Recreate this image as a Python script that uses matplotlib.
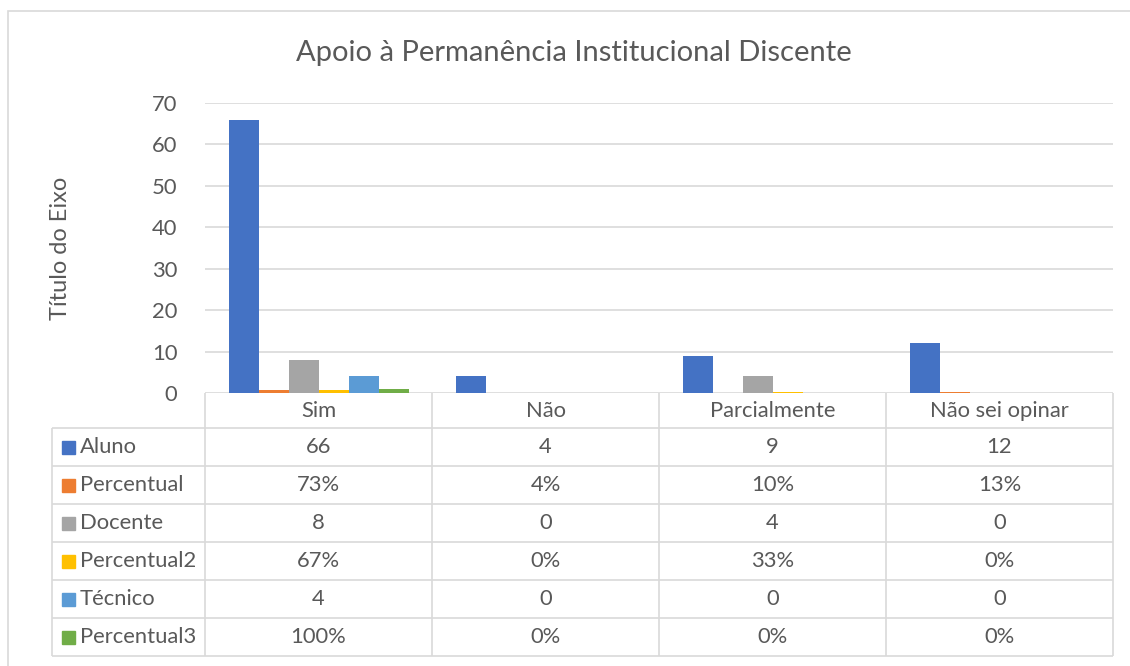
import numpy as np
import matplotlib.pyplot as plt
from matplotlib.patches import Rectangle

# categories and series
categories = ['Sim', 'Não', 'Parcialmente', 'Não sei opinar']
series_names = ['Aluno', 'Percentual', 'Docente', 'Percentual2', 'Técnico', 'Percentual3']
aluno = [66, 4, 9, 12]
percentual = [0.73, 0.04, 0.10, 0.13]
docente = [8, 0, 4, 0]
percentual2 = [0.67, 0.0, 0.33, 0.0]
tecnico = [4, 0, 0, 0]
percentual3 = [1.0, 0.0, 0.0, 0.0]
table_labels = [
    ['66', '4', '9', '12'],
    ['73%', '4%', '10%', '13%'],
    ['8', '0', '4', '0'],
    ['67%', '0%', '33%', '0%'],
    ['4', '0', '0', '0'],
    ['100%', '0%', '0%', '0%'],
]
colors = ['#4472C4', '#ED7D31', '#A5A5A5', '#FFC000', '#5B9BD5', '#70AD47']

plt.rcParams['font.family'] = ['Lato', 'DejaVu Sans']
W, H = 1130, 666
fig = plt.figure(figsize=(W / 100, H / 100), dpi=100)
txt = '#595959'
grid = '#D9D9D9'
fs = 15.8

def fx(px):
    return px / W

def fy(py):
    return 1 - py / H

# outer chart border
fig.patches.append(Rectangle((fx(8), fy(700)), fx(1200) - fx(8), fy(11) - fy(700),
                             transform=fig.transFigure, fill=False, edgecolor=grid, lw=1.2))

# main plot area
left, right, top, bottom = 205, 1113, 103, 393
ax = fig.add_axes([fx(left), fy(bottom), fx(right) - fx(left), fy(top) - fy(bottom)])
all_series = [aluno, percentual, docente, percentual2, tecnico, percentual3]
x = np.arange(len(categories))
bw = 30 / 227
for i, (vals, c) in enumerate(zip(all_series, colors)):
    ax.bar(x + (i - 2.5) * bw, vals, width=bw, color=c, zorder=3)
ax.set_xlim(-0.5, len(categories) - 0.5)
ax.set_ylim(0, 70)
ax.set_yticks(range(0, 71, 10))
ax.yaxis.grid(True, color=grid, lw=1.2, zorder=0)
ax.set_xticks([])
for s in ax.spines.values():
    s.set_visible(False)
ax.tick_params(axis='y', length=0, labelsize=fs, labelcolor=txt, pad=20)
ax.set_ylabel('Título do Eixo', fontsize=17, color=txt)
ax.yaxis.set_label_coords(-0.148, 0.5)
fig.text(fx(574), fy(53), 'Apoio à Permanência Institucional Discente',
         ha='center', va='center', fontsize=21, color=txt)

# data table below the plot
tab = fig.add_axes([fx(0), fy(666), 1, fy(bottom) - fy(666)])
tab.set_xlim(0, W)
tab.set_ylim(666, bottom)
tab.axis('off')
row_edges = [393, 428, 466, 504, 542, 580, 618, 656]
col_edges = [205, 432, 659, 886, 1113]
label_left = 52
# grid lines of table
tab.hlines(row_edges[1:], label_left, col_edges[-1], color=grid, lw=1.2)
tab.vlines(col_edges, row_edges[0], row_edges[-1], color=grid, lw=1.2)
tab.vlines(label_left, row_edges[1], row_edges[-1], color=grid, lw=1.2)
# header row
for j, cat in enumerate(categories):
    cx = (col_edges[j] + col_edges[j + 1]) / 2
    tab.text(cx, (row_edges[0] + row_edges[1]) / 2 + 1, cat, ha='center', va='center',
             fontsize=fs, color=txt)
# body rows
for i, name in enumerate(series_names):
    cy = (row_edges[i + 1] + row_edges[i + 2]) / 2
    tab.add_patch(Rectangle((62, cy - 6), 13, 13, color=colors[i]))
    tab.text(80, cy, name, ha='left', va='center', fontsize=fs, color=txt)
    for j in range(len(categories)):
        cx = (col_edges[j] + col_edges[j + 1]) / 2
        tab.text(cx, cy, table_labels[i][j], ha='center', va='center',
                 fontsize=fs, color=txt)

fig.savefig('out.png', dpi=100)
